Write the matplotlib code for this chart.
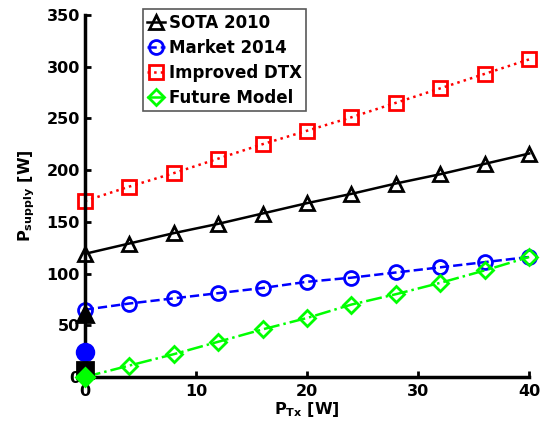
import matplotlib.pyplot as plt
import numpy as np

plt.rcParams['font.family'] = ['DejaVu Sans']
plt.rcParams['font.weight'] = 'bold'
plt.rcParams['mathtext.default'] = 'bf'

# transmit power (W)
p_tx = [0, 4, 8, 12, 16, 20, 24, 28, 32, 36, 40]

# supply power (W) per model
sota_2010 = [119, 129, 139, 148, 158, 168, 177, 187, 196, 206, 216]
market_2014 = [65, 71, 76, 81, 86, 92, 96, 101, 106, 111, 116]
improved_dtx = [170, 184, 197, 211, 225, 238, 251, 265, 279, 293, 307]
future_model = [0, 11, 22, 34, 46, 57, 70, 80, 91, 103, 116]

# sleep mode power (W) at zero load
sleep_power = [61, 24, 7, 0]

series = [
    ('SOTA 2010', sota_2010, 'k', '-', '^'),
    ('Market 2014', market_2014, 'b', '--', 'o'),
    ('Improved DTX', improved_dtx, 'r', ':', 's'),
    ('Future Model', future_model, (0, 1, 0), '-.', 'D'),
]

fig = plt.figure(figsize=(5.4, 4.25), dpi=100)
ax = fig.add_axes([0.157, 0.113, 0.823, 0.852])

for label, vals, col, ls, mk in series:
    ax.plot(p_tx, vals, color=col, linestyle=ls, linewidth=1.8, marker=mk,
            markersize=10 if mk != 'D' else 8, markerfacecolor='none',
            markeredgecolor=col, markeredgewidth=2, label=label, clip_on=False)

# sleep markers on the y axis
sleep_col = ['k', 'b', 'k', (0, 1, 0)]
for (label, vals, col, ls, mk), ps, c in zip(series, sleep_power, sleep_col):
    ax.plot([0], [ps], linestyle='none', marker=mk, markersize=12 if mk != 'D' else 9,
            markerfacecolor=c, markeredgecolor=c, markeredgewidth=2, clip_on=False, zorder=5)

ax.set_xlim(0, 40)
ax.set_ylim(0, 350)
ax.set_xticks([0, 10, 20, 30, 40])
ax.set_yticks(np.arange(0, 351, 50))
ax.spines['top'].set_visible(False)
ax.spines['right'].set_visible(False)
ax.spines['left'].set_linewidth(2.5)
ax.spines['bottom'].set_linewidth(2.5)
ax.tick_params(direction='in', length=4, width=2, labelsize=11.5)
ax.tick_params(axis='x', pad=5)
for t in ax.get_xticklabels() + ax.get_yticklabels():
    t.set_fontweight('bold')

ax.set_xlabel(r'P$_{Tx}$ [W]', fontsize=11.5, fontweight='bold', labelpad=1)
ax.set_ylabel(r'P$_{supply}$ [W]', fontsize=11.5, fontweight='bold', labelpad=7)

leg = ax.legend(loc='upper left', bbox_to_anchor=(0.13, 1.015), borderaxespad=0,
                handlelength=1.1, handletextpad=0.25, labelspacing=0.42,
                borderpad=0.25, fancybox=False, framealpha=1, edgecolor='0.35',
                prop={'weight': 'bold', 'size': 12})
leg.get_frame().set_linewidth(1.2)

fig.savefig('out.png', dpi=100)
